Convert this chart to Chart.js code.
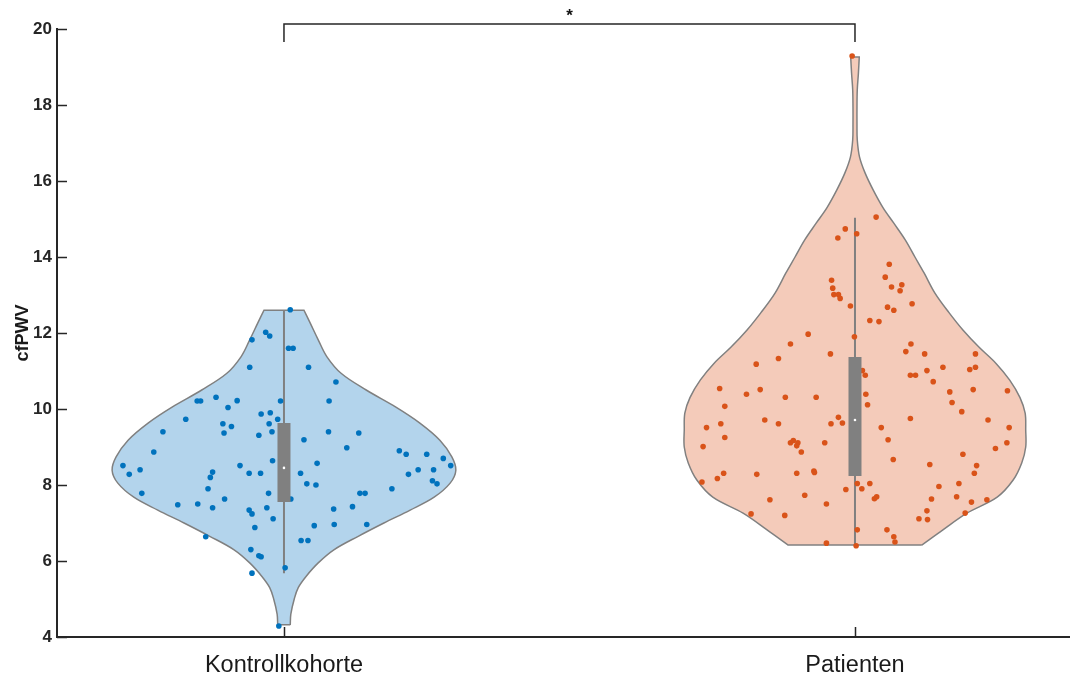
<!DOCTYPE html>
<html>
<head>
<meta charset="utf-8">
<script src="https://cdn.jsdelivr.net/npm/chart.js@4.4.1/dist/chart.umd.min.js"></script>
<style>
  html, body { margin: 0; padding: 0; background: #ffffff; }
</style>
</head>
<body>
<canvas id="myChart" width="1073" height="680"></canvas>
<script>
const categories = ['Kontrollkohorte', 'Patienten'];
const yTicks = [4, 6, 8, 10, 12, 14, 16, 18, 20];

// cfPWV Einzelwerte + Jitter (x-Versatz in Kategorie-Einheiten)
const ctrlValues = [12.61, 12.02, 11.92, 11.82, 11.6, 11.6, 11.1, 11.1, 10.71, 10.21, 10.21, 10.31, 10.22, 10.04, 10.21, 10.21,
  9.87, 9.9, 9.73, 9.73, 9.61, 9.54, 9.61, 9.4, 9.37, 9.4, 9.31, 9.4, 9.37, 9.19, 8.98, 8.87, 8.9, 8.81, 8.81, 8.7, 8.64, 8.57,
  8.51, 8.51, 8.51, 8.28, 8.4, 8.34, 8.2, 8.31, 8.31, 8.31, 8.28, 8.4, 8.4, 8.11, 8.03, 8.03, 8.0, 7.9, 7.9, 7.78, 7.78, 7.78, 7.78,
  7.48, 7.5, 7.4, 7.63, 7.63, 7.34, 7.24, 7.4, 7.11, 7.37, 7.43, 6.88, 6.93, 6.96, 6.96, 6.64, 6.54, 6.54, 6.3, 6.14, 6.11, 5.82, 5.68, 4.29];
const ctrlJitter = [0.011, -0.032, -0.025, -0.056, 0.008, 0.016, -0.060, 0.043, 0.091, -0.152, -0.146, -0.119, -0.082, -0.098, -0.006, 0.079,
  -0.040, -0.024, -0.172, -0.011, -0.107, -0.092, -0.026, -0.212, -0.105, -0.021, -0.044, 0.078, 0.131, 0.035, 0.110, -0.228, 0.202, 0.214, 0.250, 0.279, -0.020, 0.058,
  -0.282, -0.077, 0.292, -0.271, -0.252, -0.125, -0.129, -0.061, -0.041, 0.029, 0.218, 0.235, 0.262, 0.260, 0.268, 0.040, 0.056, -0.133, 0.189, -0.249, -0.027, 0.133, 0.142,
  -0.186, -0.151, -0.125, -0.104, 0.012, -0.061, -0.056, -0.030, -0.019, 0.087, 0.120, -0.051, 0.053, 0.088, 0.145, -0.137, 0.030, 0.042, -0.058, -0.044, -0.040, 0.002, -0.056, -0.009];

const patValues = [19.29, 15.05, 14.74, 14.61, 14.5, 13.81, 13.47, 13.39, 13.21, 13.27, 13.11, 13.18, 13.01, 13.01, 12.91, 12.77, 12.68, 12.6, 12.71, 12.33,
  12.3, 11.97, 11.9, 11.71, 11.71, 11.51, 11.45, 11.45, 11.45, 11.33, 11.18, 11.1, 11.04, 11.1, 11.01, 11.01, 10.89, 10.89, 10.89, 10.72,
  10.54, 10.51, 10.51, 10.48, 10.45, 10.39, 10.39, 10.31, 10.31, 10.17, 10.11, 10.07, 9.93, 9.75, 9.78, 9.71, 9.71, 9.63, 9.61, 9.61,
  9.61, 9.51, 9.51, 9.51, 9.25, 9.19, 9.01, 9.11, 9.17, 9.11, 9.03, 9.11, 9.11, 8.96, 8.87, 8.81, 8.67, 8.54, 8.51, 8.31,
  8.28, 8.31, 8.37, 8.33, 8.31, 8.08, 8.17, 8.04, 8.04, 8.04, 7.9, 7.88, 7.96, 7.73, 7.64, 7.69, 7.69, 7.63, 7.61, 7.55,
  7.61, 7.5, 7.32, 7.26, 7.24, 7.2, 7.11, 7.09, 6.82, 6.82, 6.64, 6.5, 6.47, 6.4];
const patJitter = [-0.005, 0.037, -0.017, 0.003, -0.030, 0.060, 0.053, -0.041, 0.064, 0.082, 0.079, -0.039, -0.037, -0.029, -0.026, 0.100, 0.057, 0.068, -0.008, 0.026,
  0.042, -0.082, -0.001, -0.113, 0.098, 0.089, 0.122, 0.211, -0.043, -0.134, -0.173, 0.154, 0.201, 0.211, 0.126, 0.013, 0.018, 0.097, 0.106, 0.137,
  -0.237, -0.166, 0.207, 0.267, 0.166, -0.190, 0.019, -0.122, -0.068, 0.170, 0.022, -0.228, 0.187, 0.097, -0.029, 0.233, -0.158, -0.022, -0.042, -0.134,
  -0.235, -0.260, 0.046, 0.270, -0.228, 0.058, -0.266, -0.113, -0.108, -0.100, -0.102, -0.053, 0.266, 0.246, -0.094, 0.189, 0.067, 0.131, 0.213, -0.230,
  -0.172, -0.102, -0.072, -0.071, 0.209, -0.268, -0.241, 0.004, 0.026, 0.182, 0.012, -0.016, 0.147, -0.088, 0.034, 0.038, 0.178, 0.134, -0.149, 0.204,
  0.231, -0.050, 0.126, 0.193, -0.182, -0.123, 0.112, 0.127, 0.004, 0.056, 0.068, 0.070, -0.050, 0.002];

// Dichte (halbe Violinenbreite in Kategorie-Einheiten)
const ctrlDensityY = [4.32, 4.6, 5.0, 5.3, 5.6, 5.95, 6.3, 6.65, 7.0, 7.34, 7.68, 8.05, 8.39, 8.74, 9.18, 9.63, 10.05, 10.5, 10.94, 11.38, 11.82, 12.26, 12.6];
const ctrlDensityW = [0.011, 0.012, 0.018, 0.025, 0.039, 0.060, 0.088, 0.130, 0.175, 0.221, 0.263, 0.291, 0.301, 0.294, 0.273, 0.238, 0.196, 0.144, 0.100, 0.075, 0.060, 0.046, 0.035];
const patDensityY = [6.42, 6.82, 7.26, 7.68, 8.13, 8.58, 9.0, 9.45, 9.89, 10.3, 10.76, 11.2, 11.63, 12.08, 12.53, 13.05, 13.58, 14.0, 14.45, 14.89, 15.3, 15.76, 16.2, 16.63, 17.08, 17.5, 17.95, 18.4, 18.84, 19.26];
const patDensityW = [0.117, 0.154, 0.196, 0.249, 0.277, 0.292, 0.299, 0.299, 0.298, 0.289, 0.271, 0.247, 0.217, 0.189, 0.165, 0.140, 0.121, 0.105, 0.088, 0.068, 0.049, 0.032, 0.018, 0.008, 0.004, 0.0035, 0.0035, 0.004, 0.006, 0.0075];

// Boxplot: [Q1, Median, Q3] und Whisker [min, max]
const ctrlBox = [7.55, 8.45, 9.63];
const ctrlWhisker = [5.68, 12.6];
const patBox = [8.24, 9.71, 11.37];
const patWhisker = [6.42, 15.03];

const sigBracket = [19.66, 20.13];
const sigLabel = '*';

const axisColor = '#262626';
const fontFam = '"Liberation Sans", Arial, Helvetica, sans-serif';

function violinShape(center, ys, ws) {
    const pts = [];
    const n = ys.length;
    // rechte Seite unten -> oben
    pts.push({ x: center + ws[0], y: ys[0] });
    for (let i = 0; i < n; i++) pts.push({ x: center + ws[i], y: ys[i] });
    pts.push({ x: center + ws[n - 1], y: ys[n - 1] });
    // linke Seite oben -> unten
    pts.push({ x: center - ws[n - 1], y: ys[n - 1] });
    for (let i = n - 1; i >= 0; i--) pts.push({ x: center - ws[i], y: ys[i] });
    pts.push({ x: center - ws[0], y: ys[0] });
    pts.push({ x: center + ws[0], y: ys[0] });
    return pts;
}

function jitterPoints(center, values, jitter) {
    return values.map((v, i) => ({ x: center + jitter[i], y: v }));
}

function makeGroup(center, vals, jit, dy, dw, box, whisk, fill, dot) {
    return [
        {
            data: violinShape(center, dy, dw),
            showLine: true, fill: 'shape', tension: 0.35,
            backgroundColor: fill, borderColor: '#808080', borderWidth: 1.5,
            pointRadius: 0, order: 6
        },
        {
            data: [{ x: center, y: whisk[0] }, { x: center, y: whisk[1] }],
            showLine: true, borderColor: '#808080', borderWidth: 2,
            pointRadius: 0, order: 5
        },
        {
            data: jitterPoints(center, vals, jit),
            showLine: false, pointRadius: 2.8, pointBorderWidth: 0,
            backgroundColor: dot, borderColor: dot, order: 4
        },
        {
            data: [{ x: center, y: box[0] }, { x: center, y: box[2] }],
            showLine: true, borderColor: '#808080', borderWidth: 13, borderCapStyle: 'butt',
            pointRadius: 0, order: 3
        },
        {
            data: [{ x: center, y: box[1] }],
            showLine: false, pointRadius: 1.3, pointBorderWidth: 0,
            backgroundColor: '#ffffff', order: 2
        }
    ];
}

const datasets = [
    ...makeGroup(1, ctrlValues, ctrlJitter, ctrlDensityY, ctrlDensityW, ctrlBox, ctrlWhisker, '#b3d4ec', '#0072bd'),
    ...makeGroup(2, patValues, patJitter, patDensityY, patDensityW, patBox, patWhisker, '#f4cbba', '#d95319'),
    {
        data: [{ x: 1, y: sigBracket[0] }, { x: 1, y: sigBracket[1] }, { x: 2, y: sigBracket[1] }, { x: 2, y: sigBracket[0] }],
        showLine: true, borderColor: axisColor, borderWidth: 1.5, pointRadius: 0, clip: false, order: 1
    }
];

// Ticks nach innen + Signifikanzstern
const innerTicks = {
    id: 'innerTicks',
    afterDraw(chart) {
        const ctx = chart.ctx;
        const xs = chart.scales.x, ys = chart.scales.y;
        const area = chart.chartArea;
        ctx.save();
        ctx.strokeStyle = axisColor;
        ctx.lineWidth = 1.5;
        ctx.beginPath();
        yTicks.forEach(t => {
            const py = Math.round(ys.getPixelForValue(t)) + 0.5;
            ctx.moveTo(area.left, py);
            ctx.lineTo(area.left + 10, py);
        });
        categories.forEach((c, i) => {
            const px = Math.round(xs.getPixelForValue(i + 1)) + 0.5;
            ctx.moveTo(px, area.bottom);
            ctx.lineTo(px, area.bottom - 10);
        });
        ctx.stroke();
        ctx.fillStyle = '#111111';
        ctx.font = 'bold 17px ' + fontFam;
        ctx.textAlign = 'center';
        ctx.textBaseline = 'middle';
        ctx.fillText(sigLabel, xs.getPixelForValue(1.5), ys.getPixelForValue(sigBracket[1]) - 8);
        ctx.restore();
    }
};

const ctx = document.getElementById('myChart').getContext('2d');
new Chart(ctx, {
    type: 'scatter',
    data: { datasets: datasets },
    options: {
        responsive: false,
        animation: false,
        layout: { padding: { top: 29, right: 0, bottom: 0, left: 0 } },
        plugins: { legend: { display: false }, tooltip: { enabled: false } },
        scales: {
            x: {
                type: 'linear',
                min: 0.6025, max: 2.3748,
                afterBuildTicks: s => { s.ticks = categories.map((c, i) => ({ value: i + 1 })); },
                afterFit: s => { s.height = 43; s.paddingLeft = 0; s.paddingRight = 0; },
                grid: { display: false, drawTicks: false },
                border: { display: true, color: axisColor, width: 2 },
                ticks: {
                    padding: 14,
                    color: '#1a1a1a',
                    font: { family: fontFam, size: 23.5 },
                    callback: v => categories[v - 1] || ''
                }
            },
            y: {
                min: 4, max: 20,
                afterBuildTicks: s => { s.ticks = yTicks.map(v => ({ value: v })); },
                afterFit: s => { s.width = 57; s.paddingTop = 0; s.paddingBottom = 0; },
                grid: { display: false, drawTicks: false },
                border: { display: true, color: axisColor, width: 2 },
                ticks: {
                    padding: 5,
                    color: axisColor,
                    font: { family: fontFam, size: 17, weight: 'bold' }
                },
                title: {
                    display: true, text: 'cfPWV', color: '#1a1a1a',
                    font: { family: fontFam, size: 18, weight: 'bold' },
                    padding: { top: 12, bottom: 0 }
                }
            }
        }
    },
    plugins: [innerTicks]
});
</script>
</body>
</html>
